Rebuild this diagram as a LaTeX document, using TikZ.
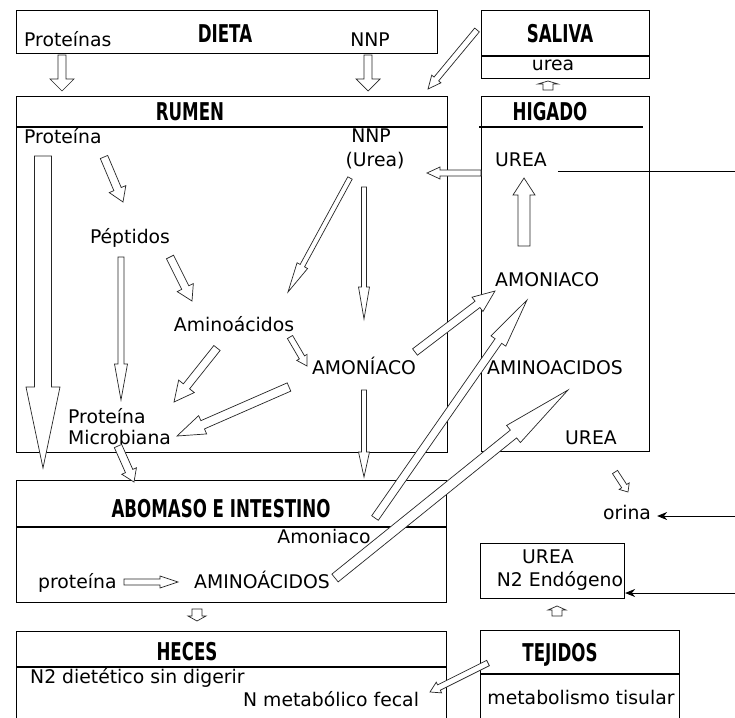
\documentclass[tikz,border=0pt]{standalone}
\usepackage{fontspec}
\setmainfont{DejaVu Sans}
\newfontfamily\hdrfont{DejaVu Sans}[FakeStretch=0.68]
\usetikzlibrary{arrows.meta,calc}
\newcommand\harrow[5]{%
  \path let \p1=(#1),\p2=(#2) in \pgfextra{%
    \pgfmathsetmacro\harAng{atan2(\y2-\y1,\x2-\x1)}%
    \pgfmathsetmacro\harLen{veclen(\x2-\x1,\y2-\y1)}%
    \global\let\harAng\harAng \global\let\harLen\harLen};
  \begin{scope}[shift={(#1)},rotate=\harAng]
    \draw[harr] (0pt,#3pt) -- ({\harLen pt-#5pt},#3pt) -- ({\harLen pt-#5pt},#4pt)
      -- ({\harLen pt},0pt) -- ({\harLen pt-#5pt},-#4pt) -- ({\harLen pt-#5pt},-#3pt)
      -- (0pt,-#3pt) -- cycle;
  \end{scope}}
\begin{document}
\begin{tikzpicture}[x=1pt,y=-1pt,
  box/.style={draw=black, line width=1.1pt, inner sep=0pt, anchor=north west, fill=none},
  txt/.style={inner sep=0pt, font=\fontsize{18.8}{21}\selectfont, text height=13.5pt, text depth=0pt},
  hdr/.style={inner sep=0pt, font=\hdrfont\bfseries\fontsize{24.5}{26}\selectfont, text height=18pt, text depth=0pt},
  harr/.style={draw=black!85, line width=0.7pt, fill=white, line join=miter},
  filarr/.style={draw=black, line width=0.8pt, -{Stealth[length=10pt,width=8pt]}},
  divider/.style={draw=black, line width=1.1pt}]
\useasboundingbox (0,0) rectangle (735,717);
\fill[white] (0,0) rectangle (735,717);

% ---- boxes ----
\node[box, minimum width=421pt, minimum height=43pt] (dieta) at (16,10) {};
\node[box, minimum width=431pt, minimum height=356pt] (rumen) at (16,96) {};
\node[box, minimum width=168pt, minimum height=68pt] (saliva) at (481,10) {};
\node[box, minimum width=168pt, minimum height=355pt] (higado) at (481,96) {};
\node[box, minimum width=430pt, minimum height=122pt] (abomaso) at (16,480) {};
\node[box, minimum width=144pt, minimum height=55pt] (ureabox) at (480,543) {};
\node[box, minimum width=430pt, minimum height=100pt] (heces) at (16,631) {};
\node[box, minimum width=199pt, minimum height=100pt] (tejidos) at (480,630) {};
\draw[divider] (16,127) -- (447,127);
\draw[divider] (481,56) -- (649,56);
\draw[divider] (479,127) -- (643,127);
\draw[divider] (16,527) -- (446,527);
\draw[divider] (16,667) -- (446,667);
\draw[divider] (480,674) -- (679,674);

% ---- headers ----
\node[hdr] (hDieta) at (225,34) {DIETA};
\node[hdr] (hRumen) at (190,111) {RUMEN};
\node[hdr] (hSaliva) at (560,34) {SALIVA};
\node[hdr] (hHigado) at (550,111) {HIGADO};
\node[hdr] (hAbom) at (221,508) {ABOMASO E INTESTINO};
\node[hdr] (hHeces) at (187,651) {HECES};
\node[hdr] (hTej) at (560,652) {TEJIDOS};

% ---- texts ----
\node[txt, anchor=west] (dProt) at (24,40) {Proteínas};
\node[txt] (dNNP) at (370,40) {NNP};
\node[txt] (sUrea) at (553,64) {urea};
\node[txt, anchor=west] (hUrea) at (495,160) {UREA};
\node[txt, anchor=west] (hAmon) at (495,280) {AMONIACO};
\node[txt, anchor=west] (hAmino) at (487,368) {AMINOACIDOS};
\node[txt, anchor=west] (hUrea2) at (565,438) {UREA};
\node[txt, anchor=west] (rProt) at (24,137) {Proteína};
\node[txt] (rNNP) at (371,136) {NNP};
\node[txt] (rUrea) at (375,160) {(Urea)};
\node[txt] (rPept) at (130,237) {Péptidos};
\node[txt] (rAmino) at (234,325) {Aminoácidos};
\node[txt] (rAmon) at (364,368) {AMONÍACO};
\node[txt, anchor=west] (rPM1) at (68,417) {Proteína};
\node[txt, anchor=west] (rPM2) at (68,438) {Microbiana};
\node[txt] (aAmon) at (324,537) {Amoniaco};
\node[txt, anchor=west] (aProt) at (38,582) {proteína};
\node[txt] (aAmino) at (262,582) {AMINOÁCIDOS};
\node[txt, anchor=west] (hN2) at (30,677) {N2 dietético sin digerir};
\node[txt, anchor=west] (hNmet) at (243,700) {N metabólico fecal};
\node[txt] (orina) at (627,513) {orina};
\node[txt] (uUrea) at (548,557) {UREA};
\node[txt] (uN2) at (560,580) {N2 Endógeno};
\node[txt] (tMet) at (581,698) {metabolismo tisular};

% ---- arrow end coordinates ----
\coordinate (a1s) at (62,55);   \coordinate (a1e) at (62,91);
\coordinate (a2s) at (368,55);  \coordinate (a2e) at (368,91);
\coordinate (a3s) at (477,30);  \coordinate (a3e) at (428,89);
\coordinate (a4s) at (548,90);  \coordinate (a4e) at (548,81);
\coordinate (a5s) at (481,173); \coordinate (a5e) at (427,173);
\coordinate (a6s) at (524,246); \coordinate (a6e) at (524,178);
\coordinate (a7s) at (43,156);  \coordinate (a7e) at (43,468);
\coordinate (a8s) at (104,157); \coordinate (a8e) at (123,202);
\coordinate (a9s) at (121,257); \coordinate (a9e) at (121,400);
\coordinate (a10s) at (170,257); \coordinate (a10e) at (192,301);
\coordinate (a11s) at (350,178); \coordinate (a11e) at (288,292);
\coordinate (a12s) at (364,187); \coordinate (a12e) at (364,319);
\coordinate (a13s) at (290,337); \coordinate (a13e) at (307,366);
\coordinate (a14s) at (217,348); \coordinate (a14e) at (174,402);
\coordinate (a15s) at (289,387); \coordinate (a15e) at (177,436);
\coordinate (a16s) at (364,390); \coordinate (a16e) at (364,477);
\coordinate (a17s) at (118,446); \coordinate (a17e) at (134,482);
\coordinate (a18s) at (415,352); \coordinate (a18e) at (495,291);
\coordinate (a19s) at (375,518); \coordinate (a19e) at (527,300);
\coordinate (a20s) at (335,578); \coordinate (a20e) at (568,390);
\coordinate (a21s) at (124,582); \coordinate (a21e) at (178,582);
\coordinate (a22s) at (197,609); \coordinate (a22e) at (197,621);
\coordinate (a23s) at (615,472); \coordinate (a23e) at (628,492);
\coordinate (a24s) at (557,616); \coordinate (a24e) at (557,606);
\coordinate (a25s) at (488,663); \coordinate (a25e) at (430,692);

% ---- hollow arrows ----
\harrow{a1s}{a1e}{4}{12}{12}
\harrow{a2s}{a2e}{4}{12}{12}
\harrow{a3s}{a3e}{3}{6}{13}
\harrow{a4s}{a4e}{5}{10}{3}
\harrow{a5s}{a5e}{3}{6}{13}
\harrow{a6s}{a6e}{6}{11}{17}
\harrow{a7s}{a7e}{8.5}{17}{81}
\harrow{a8s}{a8e}{4}{9}{14}
\harrow{a9s}{a9e}{3}{6.5}{36}
\harrow{a10s}{a10e}{4}{9}{15}
\harrow{a11s}{a11e}{2.5}{6}{30}
\harrow{a12s}{a12e}{2.5}{5.5}{32}
\harrow{a13s}{a13e}{3}{6}{10}
\harrow{a14s}{a14e}{4}{10}{20}
\harrow{a15s}{a15e}{4.5}{10}{28}
\harrow{a16s}{a16e}{2.5}{5.5}{25}
\harrow{a17s}{a17e}{4}{8}{12}
\harrow{a18s}{a18e}{4}{9}{22}
\harrow{a19s}{a19e}{4}{9}{50}
\harrow{a20s}{a20e}{5}{11}{70}
\harrow{a21s}{a21e}{3}{6}{18}
\harrow{a22s}{a22e}{5}{9}{5}
\harrow{a23s}{a23e}{3}{6}{7}
\harrow{a24s}{a24e}{5}{9}{4}
\harrow{a25s}{a25e}{3}{6}{10}

% ---- thin lines from the right ----
\coordinate (rE0) at (735,171);
\coordinate (rE1) at (735,516);
\coordinate (rE2) at (735,593);
\draw[line width=0.8pt, shorten <=11pt] (rE0 -| hUrea.east) -- (rE0);
\draw[filarr, shorten >=6pt] (rE1) -- (rE1 -| orina.east);
\draw[filarr] (rE2) -- (rE2 -| ureabox.east);
\end{tikzpicture}
\end{document}
